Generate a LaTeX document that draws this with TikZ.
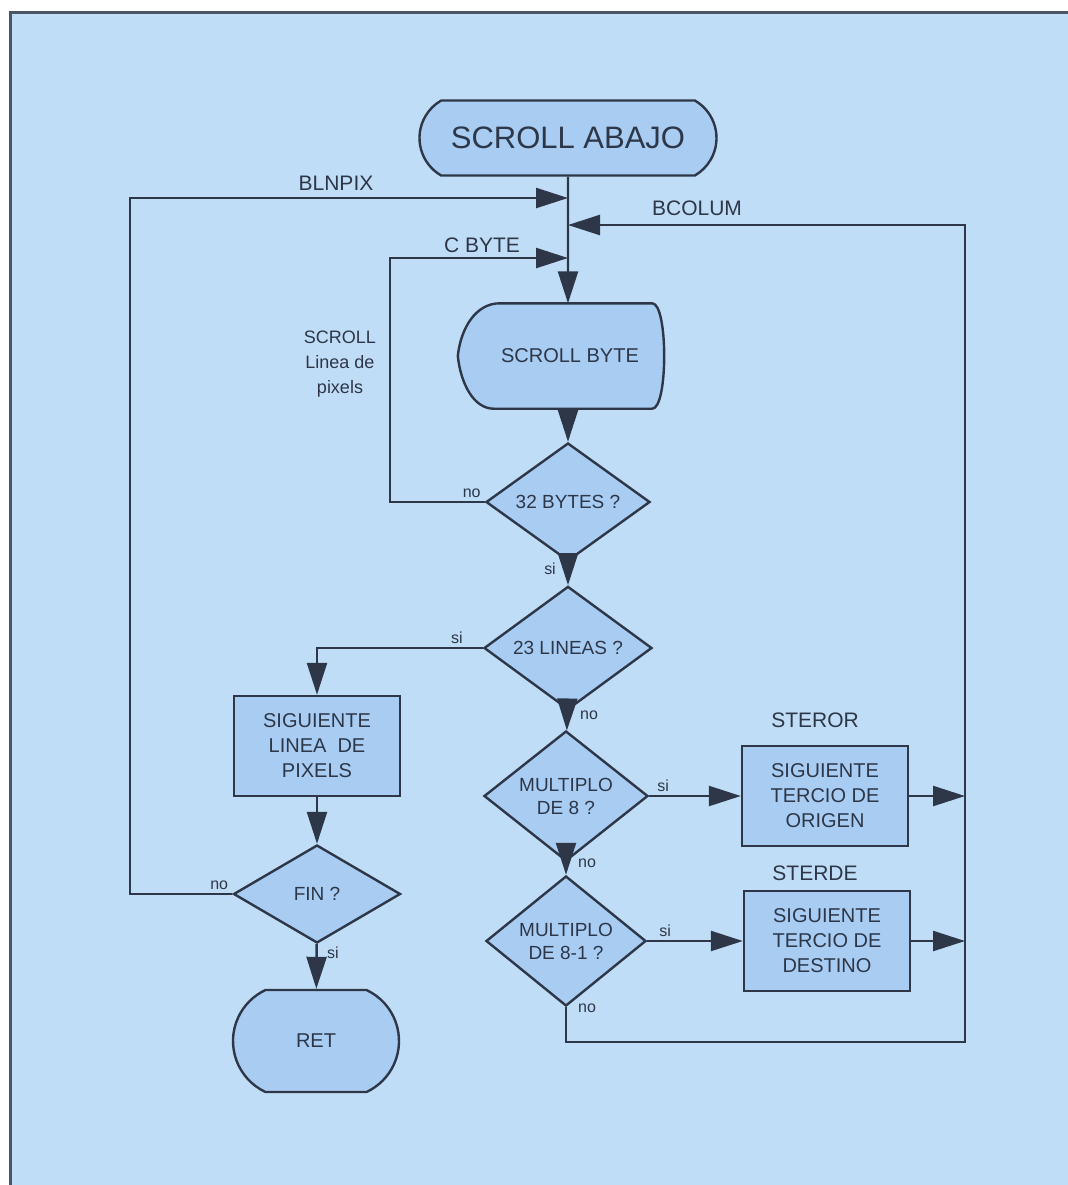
\documentclass[tikz,border=0pt]{standalone}
\usepackage{fontspec}
\setmainfont{Liberation Sans}
\usepackage{tikz}
\usetikzlibrary{arrows.meta,shapes.geometric,shapes.misc}

\definecolor{paper}{RGB}{192,221,247}
\definecolor{boxblue}{RGB}{168,204,242}
\definecolor{ink}{RGB}{45,55,72}

\tikzset{
  flow/.style={draw=ink,line width=1.2pt},
  term/.style={flow,fill=boxblue,rounded rectangle,rounded rectangle arc length=120,
    inner sep=0pt,text=ink},
  proc/.style={flow,fill=boxblue,rectangle,minimum width=83pt,minimum height=50pt,
    inner sep=0pt,align=center,text=ink,font=\fontsize{10}{12.5}\selectfont},
  dec/.style={flow,fill=boxblue,diamond,minimum width=82pt,minimum height=49pt,
    inner sep=0pt,align=center,text=ink,font=\fontsize{9.5}{11.5}\selectfont},
  lbl/.style={text=ink,font=\fontsize{8}{9}\selectfont,inner sep=1.5pt},
  tag/.style={text=ink,font=\fontsize{10.5}{12.5}\selectfont,inner sep=0pt,align=center}
}

\begin{document}
\begin{tikzpicture}[x=0.5pt,y={(0,-0.5pt)},>={Triangle[length=16pt,width=10pt]},
  line width=1.2pt,draw=ink]
  \useasboundingbox (0,0) rectangle (1068,1185);
  \fill[paper] (10,12) rectangle (1068,1185);
  \draw[ink!85,line width=1.5pt] (10,1185) -- (10,12) -- (1068,12);

  % main column
  \node[term,minimum width=148.5pt,minimum height=37.5pt,font=\fontsize{15.5}{18}\selectfont]
    (start) at (568,138) {SCROLL ABAJO};
  \node[inner sep=0pt,minimum width=102pt,minimum height=51.5pt] (sbyte) at (561,356) {};
  \draw[flow,fill=boxblue] ([xshift=21pt]sbyte.north west) -- ([xshift=-6pt]sbyte.north east)
    .. controls ([xshift=2pt]sbyte.north east) and ([xshift=2pt]sbyte.south east) .. ([xshift=-6pt]sbyte.south east)
    -- ([xshift=18pt]sbyte.south west)
    .. controls ([xshift=8pt]sbyte.south west) and ([xshift=1.5pt,yshift=-14pt]sbyte.west) .. (sbyte.west)
    .. controls ([xshift=1.5pt,yshift=14pt]sbyte.west) and ([xshift=9pt]sbyte.north west) .. cycle;
  \node[text=ink,font=\fontsize{10}{12}\selectfont] (sbytetext) at (570,356) {SCROLL BYTE};
  \node[dec] (d32) at (568,502) {32 BYTES ?};
  \node[dec,minimum width=84pt] (d23) at (568,648) {23 LINEAS ?};
  \node[dec,minimum height=50pt] (dm8) at (566,796) {MULTIPLO\\DE 8 ?};
  \node[dec,minimum width=80pt] (dm81) at (566,941) {MULTIPLO\\DE 8-1 ?};

  % left column
  \node[proc] (nextline) at (317,746) {SIGUIENTE\\LINEA \ DE\\PIXELS};
  \node[dec,minimum width=83.5pt] (fin) at (317,894) {FIN ?};
  \node[term,minimum width=83pt,minimum height=51pt,rounded rectangle arc length=130,
    font=\fontsize{10}{12}\selectfont] (ret) at (316,1041) {RET};

  % right column
  \node[proc] (steror) at (825,796) {SIGUIENTE\\TERCIO DE\\ORIGEN};
  \node[proc] (sterde) at (827,941) {SIGUIENTE\\TERCIO DE\\DESTINO};
  \node[tag] (sterortag) at (815,720) {STEROR};
  \node[tag] (sterdetag) at (815,873) {STERDE};

  % junctions and corners
  \coordinate (blnpix) at (568,198);
  \coordinate (bcolum) at (568,225);
  \coordinate (cbyte) at (568,258);
  \coordinate (cl) at (130,198);
  \coordinate (cm) at (390,258);
  \coordinate (cb) at (965,1042);
  \coordinate (cr) at (965,225);

  \draw[flow,->] (start) -- (start.south |- sbyte.north);
  \draw[flow,->] (start.south |- sbyte.south) -- (d32);
  \draw[flow,->] (d32) -- (d23);
  \draw[flow,->] (d23) -- (dm8);
  \draw[flow,->] (dm8) -- (dm81);
  \draw[flow,->] (d23.west) -| (nextline);
  \draw[flow,->] (nextline) -- (fin);
  \draw[flow,->] (fin) -- (ret);
  \draw[flow,->] (dm8) -- (steror);
  \draw[flow,->] (dm81.east) -- (dm81.east -| sterde.west);
  \draw[flow,->] (steror) -- (steror -| cr);
  \draw[flow,->] (sterde) -- (sterde -| cr);

  % loops back to the main line
  \draw[flow,->] (d32.west) -| (cm) -- (cbyte);
  \draw[flow,->] (fin.west) -| (cl) -- (blnpix);
  \draw[flow,->] (dm81.south) |- (cb) -- (cr) -- (bcolum);

  \node[tag] (blnpixtag) at (336,183) {BLNPIX};
  \node[tag] (bcolumtag) at (697,208) {BCOLUM};
  \node[tag] (cbytetag) at (482,245) {C BYTE};
  \node[tag,font=\fontsize{9}{12.5}\selectfont] (scrolltag) at (340,364) {SCROLL\\Linea de\\pixels};

  % branch labels
  \node[lbl,above left] (no1) at (d32.west) {no};
  \node[lbl,below left,xshift=-4pt,yshift=2pt] (si1) at (d32.south) {si};
  \node[lbl,above left,xshift=-8pt] (si2) at (d23.west) {si};
  \node[lbl,below right,xshift=4pt,yshift=2pt] (no2) at (d23.south) {no};
  \node[lbl,above right,xshift=2pt] (si3) at (dm8.east) {si};
  \node[lbl,below right,xshift=4pt,yshift=4pt] (no3) at (dm8.south) {no};
  \node[lbl,above right,xshift=4pt] (si4) at (dm81.east) {si};
  \node[lbl,below right,xshift=4pt,yshift=4pt] (no4) at (dm81.south) {no};
  \node[lbl,above left] (no5) at (fin.west) {no};
  \node[lbl,below right,xshift=3pt,yshift=1pt] (si5) at (fin.south) {si};
\end{tikzpicture}
\end{document}
